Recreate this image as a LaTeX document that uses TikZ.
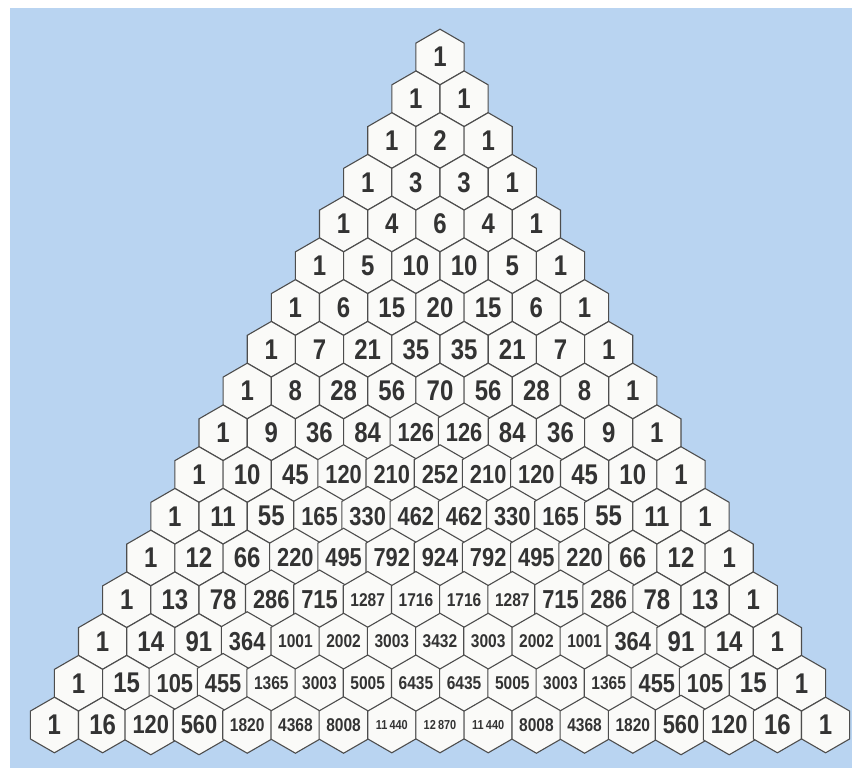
\documentclass[tikz,border=0pt]{standalone}
\usepackage{fontspec}
\newfontfamily\hexfont{Liberation Sans}[FakeStretch=0.84]
\usetikzlibrary{shapes.geometric}
\definecolor{cSky}{HTML}{B9D4F1}
\definecolor{cCell}{HTML}{FAFAF8}
\definecolor{cEdge}{HTML}{4D4D4D}
\definecolor{cNum}{HTML}{333333}
% number size falls with the number of digits
\newcommand\hexlabel[1]{%
  \ifnum#1<100 \fontsize{28.5pt}{28.5pt}\selectfont#1%
  \else\ifnum#1<1000 \fontsize{26pt}{26pt}\selectfont#1%
  \else\ifnum#1<10000 \fontsize{18.5pt}{18.5pt}\selectfont#1%
  \else\fontsize{13pt}{13pt}\selectfont\the\numexpr(#1-500)/1000\relax\,\the\numexpr#1-1000*((#1-500)/1000)\relax
  \fi\fi\fi}
\tikzset{
  hex/.style={regular polygon,regular polygon sides=6,shape border rotate=30,
    minimum size=55.6pt,inner sep=0pt,outer sep=0pt,draw=cEdge,fill=cCell,
    line width=1.1pt,text=cNum,font=\hexfont\bfseries},
  sky/.style={fill=cSky,draw=none}}

\begin{document}
\begin{tikzpicture}[x=1pt,y=-1pt]
\useasboundingbox (0,0) rectangle (852,768);
\fill[white] (0,0) rectangle (852,768);
\fill[sky] (10,8) rectangle (852,768);
\foreach \r/\vals in {0/{1},1/{1,1},2/{1,2,1},3/{1,3,3,1},4/{1,4,6,4,1},
  5/{1,5,10,10,5,1},6/{1,6,15,20,15,6,1},7/{1,7,21,35,35,21,7,1},
  8/{1,8,28,56,70,56,28,8,1},9/{1,9,36,84,126,126,84,36,9,1},
  10/{1,10,45,120,210,252,210,120,45,10,1},
  11/{1,11,55,165,330,462,462,330,165,55,11,1},
  12/{1,12,66,220,495,792,924,792,495,220,66,12,1},
  13/{1,13,78,286,715,1287,1716,1716,1287,715,286,78,13,1},
  14/{1,14,91,364,1001,2002,3003,3432,3003,2002,1001,364,91,14,1},
  15/{1,15,105,455,1365,3003,5005,6435,6435,5005,3003,1365,455,105,15,1},
  16/{1,16,120,560,1820,4368,8008,11440,12870,11440,8008,4368,1820,560,120,16,1}}{
  \foreach \v [count=\k from 0] in \vals
    \node[hex] (h\r-\k) at ({440+(\k-\r/2)*48.2},{57+\r*41.75}) {\hexlabel{\v}};
}
\end{tikzpicture}
\end{document}
